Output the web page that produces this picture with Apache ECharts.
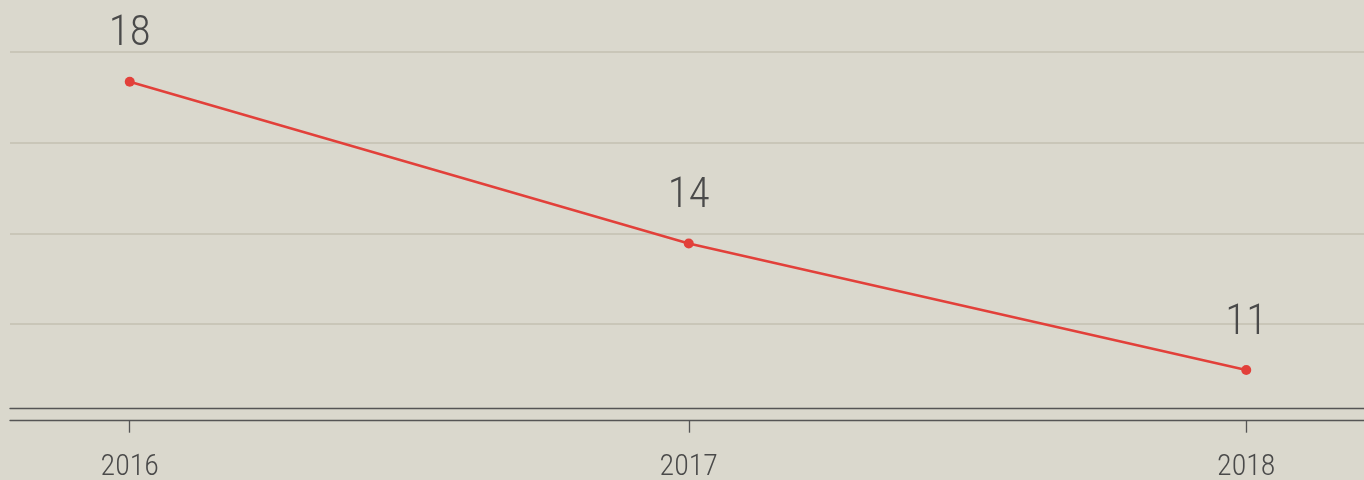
<!DOCTYPE html>
<html>
<head>
<meta charset="utf-8">
<script src="https://cdn.jsdelivr.net/npm/echarts@6/dist/echarts.min.js"></script>
<style>
html,body{margin:0;padding:0;background:#dad8cd;}
#c{width:1364px;height:480px;}
</style>
</head>
<body>
<div id="c"></div>
<script>
const years = [2016, 2017, 2018];
const values = [18, 14.07, 11];
const labels = ['18', '14', '11'];

const DAY = 86400000;
// x positions as day numbers (days since 1970-01-01) for 1 January of each year
const days = years.map(y => Date.UTC(y, 0, 1) / DAY);
const xMin = days[0] - 78.4;
const xMax = days[2] + 77.1;
const yearOf = v => String(new Date(v * DAY).getUTCFullYear());

const FONT = '"Liberation Sans Narrow", "Roboto Condensed", "DejaVu Sans Condensed", sans-serif';
const chart = echarts.init(document.getElementById('c'));
chart.setOption({
  backgroundColor: '#dad8cd',
  animation: false,
  grid: { left: 10, right: 0, top: 52, bottom: 65.3, containLabel: false, outerBoundsMode: 'none' },
  xAxis: [
    {
      type: 'value', min: xMin, max: xMax, offset: 6,
      splitLine: { show: false },
      axisLine: { show: true, lineStyle: { color: '#555', width: 1.3 } },
      axisTick: { show: true, customValues: days, length: 12, lineStyle: { color: '#555', width: 1.3 } },
      axisLabel: { customValues: days, margin: 32, fontSize: 30, color: '#4a4a4a', fontFamily: FONT, fontWeight: 300,
        formatter: yearOf }
    },
    {
      type: 'value', min: xMin, max: xMax, offset: -6.4, position: 'bottom',
      splitLine: { show: false },
      axisLine: { show: true, lineStyle: { color: '#555', width: 1.3 } },
      axisTick: { show: false }, axisLabel: { show: false }
    }
  ],
  yAxis: {
    type: 'value', min: 9.915, max: 18.721, interval: 2.2015,
    axisLine: { show: false }, axisTick: { show: false }, axisLabel: { show: false },
    splitLine: { show: true, showMinLine: false, lineStyle: { color: '#c3c0b0', width: 1.5 } }
  },
  series: [{
    type: 'line',
    data: days.map((d, i) => [d, values[i]]),
    symbol: 'circle', symbolSize: 10,
    lineStyle: { color: '#e2403a', width: 2.5 },
    itemStyle: { color: '#e2403a' },
    label: {
      show: true, position: 'top', distance: 20.5,
      fontSize: 43, color: '#4a4a4a', fontFamily: FONT, fontWeight: 300,
      formatter: p => labels[p.dataIndex]
    }
  }]
});
</script>
</body>
</html>
